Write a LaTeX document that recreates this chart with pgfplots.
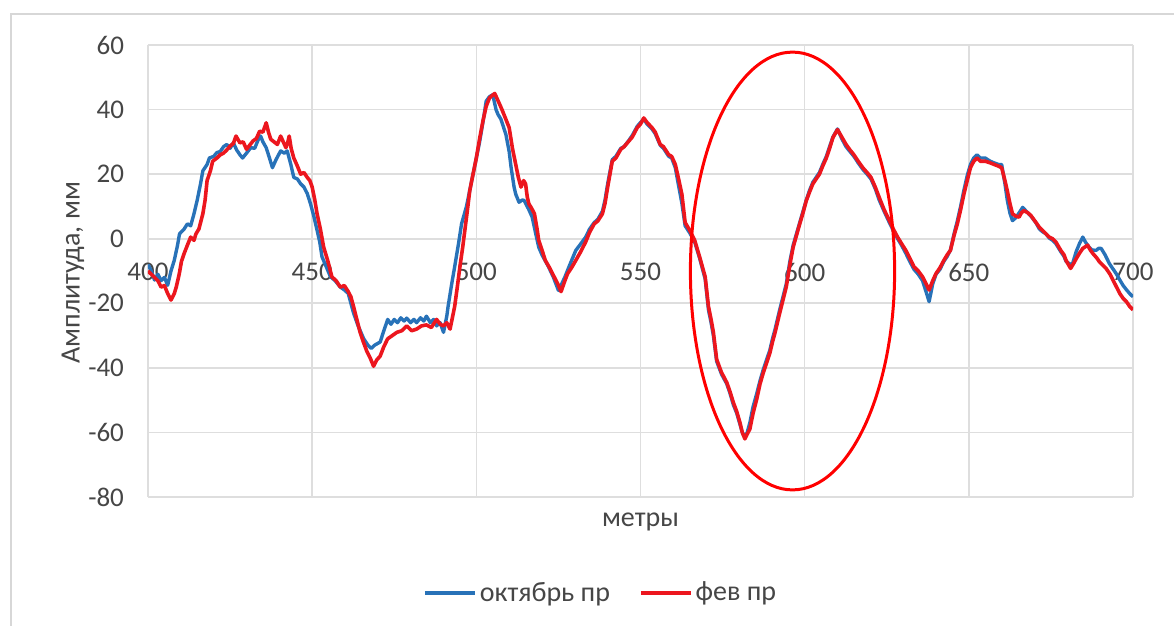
\documentclass[border=0pt]{standalone}
\usepackage{fontspec}
\setmainfont{Carlito}
\usepackage{pgfplots}
\pgfplotsset{compat=1.18}

\definecolor{serblue}{RGB}{40,114,184}
\definecolor{serred}{RGB}{236,22,30}
\definecolor{gridgray}{RGB}{222,222,222}
\definecolor{framegray}{RGB}{215,215,215}
\definecolor{txt}{RGB}{70,70,70}

\begin{document}
\begin{tikzpicture}
\useasboundingbox (-74pt,-64.5pt) rectangle (513pt,248.5pt);
% outer chart frame
\draw[framegray, line width=1pt] (-68.5pt,-70pt) -- (-68.5pt,241.5pt) -- (520pt,241.5pt);
\begin{axis}[
  at={(0pt,0pt)}, anchor=south west,
  scale only axis, width=492.5pt, height=226pt,
  xmin=400, xmax=700, ymin=-80, ymax=60,
  xtick={400,450,...,700}, ytick={-80,-60,...,60},
  axis line style={draw=none},
  tick style={draw=none},
  grid=major,
  major grid style={gridgray, line width=0.8pt},
  font=\fontsize{14}{16}\selectfont,
  every tick label/.append style={font=\fontsize{13.5}{15}\selectfont, text=txt},
  /pgf/number format/assume math mode=true,
  % x tick labels sit just under the zero line
  xticklabel style={yshift=120.3pt},
  yticklabel style={xshift=-8.5pt},
  ylabel={Амплитуда, мм},
  ylabel style={at={(axis description cs:-0.0761,0.496)}, anchor=center, text=txt},
  xlabel={метры},
  xlabel style={at={(axis description cs:0.5,0)}, anchor=center, yshift=-12.5pt, text=txt},
  legend columns=2,
  legend cell align=left,
  legend style={at={(axis description cs:0.46,0)}, anchor=center, yshift=-48pt,
    draw=none, fill=none, font=\fontsize{14}{16}\selectfont, text=txt,
    nodes={inner sep=1.5pt},
    /tikz/every even column/.append style={column sep=13pt}},
  legend image code/.code={\draw[#1, line width=1.8pt] (0pt,0pt) -- (25pt,0pt);},
  line join=round,
]
% October survey
\addplot[serblue, line width=1.7pt] coordinates {
(400,-8) (401,-10) (402,-12.8) (403,-11) (404,-13) (405,-12) (406,-14.4) (407,-10) (408,-6.7) (409,-2)
(409.6,1.5) (411,3) (412,4.6) (413,4) (414,7.7) (415,12) (416,17) (416.7,21) (418,23) (418.7,25)
(420,25.5) (421,26.7) (422,27) (423,28.5) (424,29.2) (425,28) (426,29.7) (427,27.5) (428,26) (428.8,25)
(430,26.5) (431.3,28.2) (432.5,28) (433.5,30.5) (434.3,31.8) (435,30) (436,28.2) (437,25) (437.9,22) (439,24.5)
(440.4,27.2) (441.5,26.5) (442.4,27.2) (443.5,23) (444.4,19) (445.5,18.5) (446.5,17) (447.5,16) (448.5,14) (449.5,10.8)
(450.5,7) (451.5,2.6) (452.3,-1) (453,-5.6) (454,-8) (455.6,-11.8) (457,-13) (458.6,-15) (460,-16) (461,-17)
(462.6,-23) (464,-27) (465.7,-31) (467,-33) (468,-34) (469,-33) (470.7,-32) (472,-28) (473,-25) (474,-26.5)
(475,-25) (476,-26) (477,-24.5) (478,-25.5) (478.8,-24.6) (480,-26) (481,-25) (481.8,-26) (483,-24.5) (484,-25.5)
(484.8,-24) (486,-26) (487,-25) (487.9,-27) (489,-26) (490,-29) (491,-24) (491.4,-21) (492.5,-14) (493.4,-8.7)
(494.5,-2) (495.5,4.6) (497,10) (498,15) (499,20) (500,25) (501,30) (502,36) (503,42.6) (504,44)
(505,44.6) (506,40) (506.6,38.5) (507.5,37) (509,32.3) (510,27) (510.6,22) (511.5,16) (512,13.8) (513,11.3)
(514,12) (514.6,11.8) (516,9) (517,6.7) (518,2) (519,-2.6) (520,-5) (522,-8.7) (523.5,-12) (525,-16)
(526,-14) (527,-11.8) (528.5,-8) (530.3,-3.6) (531.5,-2) (533.3,0.5) (534.5,3) (535.9,5) (537,6) (538.4,8.5)
(539.2,12) (540,17) (541.4,24.5) (542.5,25.5) (544,28) (545,28.5) (546.5,30.5) (547.5,32) (549,34.8) (550,36)
(551,37) (552,35.5) (553.5,34) (554.5,32.5) (556,29) (557,28) (558.6,25.5) (559.5,25) (560.6,22) (561.5,17)
(562.6,11) (563.6,4) (565,1.8) (566.5,-1) (568,-6) (569.7,-12.5) (570.7,-22) (571.5,-26) (572.2,-30) (573.2,-38)
(574.7,-42) (575.5,-43.5) (576.3,-45) (577.3,-48) (578.3,-51.5) (579.3,-54) (580.3,-57.5) (581,-60) (581.8,-61.5) (582.5,-60)
(583.3,-57) (584.3,-52) (585.4,-48) (586.4,-44) (587.4,-40.5) (588.4,-37.5) (589.4,-34.5) (590.2,-31) (591,-28) (591.7,-25)
(592.4,-22) (593.4,-18) (594.4,-14) (595.5,-7) (596.5,-2) (597.5,1.5) (598.5,5) (599.5,8.5) (600.5,12) (601.5,15)
(602.5,17.5) (603.5,19) (604.5,20.5) (605.5,23) (606.6,25.5) (607.6,28.5) (608.6,31.5) (610,34) (611.3,31) (612.6,28.5)
(613.8,27) (615,25.5) (616.3,23.5) (617.7,21.5) (619,20) (620.2,18.5) (621.5,15.5) (622.7,12) (624.2,8.5) (625.8,5)
(627,2.5) (628.3,0) (629.5,-2) (630.8,-4.5) (632,-7) (633.3,-9.5) (634.6,-11) (635.9,-13) (637,-16.5) (637.9,-19.5)
(639,-14) (640,-11) (641.2,-9.5) (642.4,-7) (643.4,-5.5) (644.4,-3.5) (645.5,1.5) (646.5,5.5) (647.5,10) (648.5,15)
(649.5,19.5) (650.5,23) (651.5,25) (652.5,26) (653.5,25) (655,25) (656.5,24) (657.7,23.5) (659,23) (660,23)
(661,17) (661.7,12) (662.5,8) (663.3,5.6) (664.3,6.5) (665.3,8) (666.4,9.7) (667.5,8.5) (668.9,7) (670.4,5)
(671.5,3) (672.4,2.2) (673.5,1.5) (674.5,0.2) (675.5,-0.5) (676.5,-1.5) (678,-4) (679,-5.5) (679.6,-7) (681,-8)
(681.6,-7.7) (682.7,-4) (683.7,-1.5) (684.7,0.5) (685.5,-1) (686.5,-2.5) (687.5,-3.5) (688.8,-3.6) (689.5,-3) (690.3,-3)
(691.5,-5) (692.8,-7.7) (694,-9.5) (695,-11) (696,-12.8) (697,-14.5) (698,-15.8) (699,-17) (700,-18)
};
\addlegendentry{октябрь пр}
% February survey
\addplot[serred, line width=1.8pt] coordinates {
(400,-10) (401,-11) (402,-12) (403,-13) (404,-15) (405,-14.5) (406,-17) (407,-19) (408,-17) (408.6,-15)
(409.5,-11) (410.2,-7) (411,-4.6) (412,-2) (413,0.5) (414,-0.5) (414.6,1.5) (415.5,3) (416.7,7.7) (417.4,12)
(418,18) (419,21) (419.7,24) (421,25) (422,26) (423,26.5) (424,27.5) (425,28.7) (426,29.5) (426.8,31.8)
(428,29.7) (429,30) (430,27.7) (431,29) (432,30.3) (433,31) (434,33.3) (435,33) (436,35.9) (436.7,33)
(437.4,30.8) (438.4,30) (439.4,29.2) (440.4,31.8) (441.2,30) (442,28.2) (442.6,30) (443,31.8) (443.6,28) (444.4,25)
(445.5,22.5) (446.5,20) (447.5,20.5) (448.5,19) (449.3,18) (450,16) (450.8,12) (451.5,7.7) (452.5,3) (453.5,-2.6)
(454.8,-7) (456,-11.8) (457.3,-13) (458.6,-15) (459.8,-14.5) (461,-16.4) (461.8,-18) (462.6,-21) (463.6,-25) (464.6,-29)
(465.6,-32) (466.7,-35) (467.7,-37) (468.7,-39.5) (469.7,-37.5) (470.7,-36.4) (471.8,-33.5) (473,-31) (474.4,-30) (475.8,-29)
(477.3,-28.5) (478.8,-27) (480.3,-28.5) (481.8,-28) (483.3,-27) (484.8,-26.7) (486.3,-27.5) (487.9,-25) (489,-26.5) (490,-27)
(491,-26) (492,-28) (493.4,-21) (494.2,-15) (495,-8.7) (495.8,-3) (496.5,2.6) (497.3,9) (498,14.9) (499,20)
(500,25) (501,31) (502,36.4) (503,41) (504,43.6) (505,44.5) (505.6,45) (506.5,43) (507.6,40.5) (508.8,37.5)
(510,34.4) (511,28) (512,23) (512.8,19) (513.6,16) (514.4,18) (515,17) (515.5,13) (516,10.8) (516.8,9.5)
(517.7,7.7) (518.5,3) (519,-0.5) (520,-3.5) (521,-6.7) (522.3,-9) (523.7,-11.8) (524.8,-14) (525.8,-16.4) (526.8,-13.5)
(527.8,-10.8) (529,-9) (530.3,-6.7) (531.8,-4) (533.3,-1) (534.5,2) (535.9,4.6) (537,5.5) (538.4,7.7) (539.2,11)
(540,16) (541.4,24) (542.5,25) (544,27.7) (545,28.5) (546.5,30.3) (547.5,31.5) (549,34.4) (550,35.5) (551,37.4)
(552,36) (553.5,34.4) (554.5,33) (556,29.2) (557,28.5) (558.6,26) (559.5,25.5) (560.6,23) (561.5,19) (562.6,13.8)
(563.6,5) (565,2.6) (566.5,-0.5) (568,-5.6) (569.7,-11.8) (570.7,-21) (571.5,-25) (572.2,-29) (573.2,-37.4) (574.7,-41.5)
(575.5,-43) (576.3,-44.6) (577.3,-47.5) (578.3,-50.8) (579.3,-53.5) (580.3,-57) (581,-60) (581.8,-62) (582.5,-60.5) (583.3,-59)
(584.3,-54) (585.4,-49.7) (586.4,-45) (587.4,-41.5) (588.4,-38.5) (589.4,-35.4) (590.2,-32) (591,-29) (591.7,-26) (592.4,-23)
(593.4,-19) (594.4,-14.9) (595.5,-8) (596.5,-2.6) (597.5,1) (598.5,4.6) (599.5,8) (600.5,11.8) (601.5,14.5) (602.5,17)
(603.5,18.5) (604.5,20) (605.5,22.5) (606.6,25) (607.6,28) (608.6,31.3) (610,33.8) (611.3,31.5) (612.6,29.2) (613.8,27.5)
(615,26) (616.3,24) (617.7,22) (619,20.5) (620.2,19) (621.5,16) (622.7,12.8) (624.2,9) (625.8,5.6) (627,3)
(628.3,0.5) (629.5,-1.5) (630.8,-3.6) (632,-6) (633.3,-8.7) (634.6,-10) (635.9,-11.8) (637,-14) (637.9,-15.9) (639,-13)
(640,-10.8) (641.2,-9) (642.4,-6.7) (643.4,-5) (644.4,-3.6) (645.5,1) (646.5,4.6) (647.5,9) (648.5,13.8) (649.5,18)
(650.5,22) (651.5,24) (652.5,25) (653.5,24) (655,24) (656.5,23.5) (657.7,23) (659,22.5) (660,22) (661,18)
(661.7,14.9) (662.5,11) (663.3,7.7) (664.3,7) (665.3,6.7) (666,8) (666.8,8.7) (668,8) (668.9,7.2) (670.4,5.1)
(671.5,3.5) (672.4,2.6) (673.5,1.5) (674.5,0.5) (675.5,0) (676.5,-1) (678,-3.6) (679,-5) (679.6,-6.7) (681,-9.2)
(682,-7.5) (682.7,-6.2) (683.7,-4.5) (684.7,-3) (686.2,-2) (687,-3.5) (687.8,-4.6) (689,-6) (689.8,-7.2) (691.8,-9.2)
(693,-11) (693.9,-12.8) (695,-15) (696,-17) (697,-18.5) (698,-19.5) (699,-21) (700,-22)
};
\addlegendentry{фев пр}
% highlighted section
\draw[red, line width=1.5pt] (axis cs:596.3,-10) ellipse [x radius=31.1, y radius=67.8];
\end{axis}
\end{tikzpicture}
\end{document}
